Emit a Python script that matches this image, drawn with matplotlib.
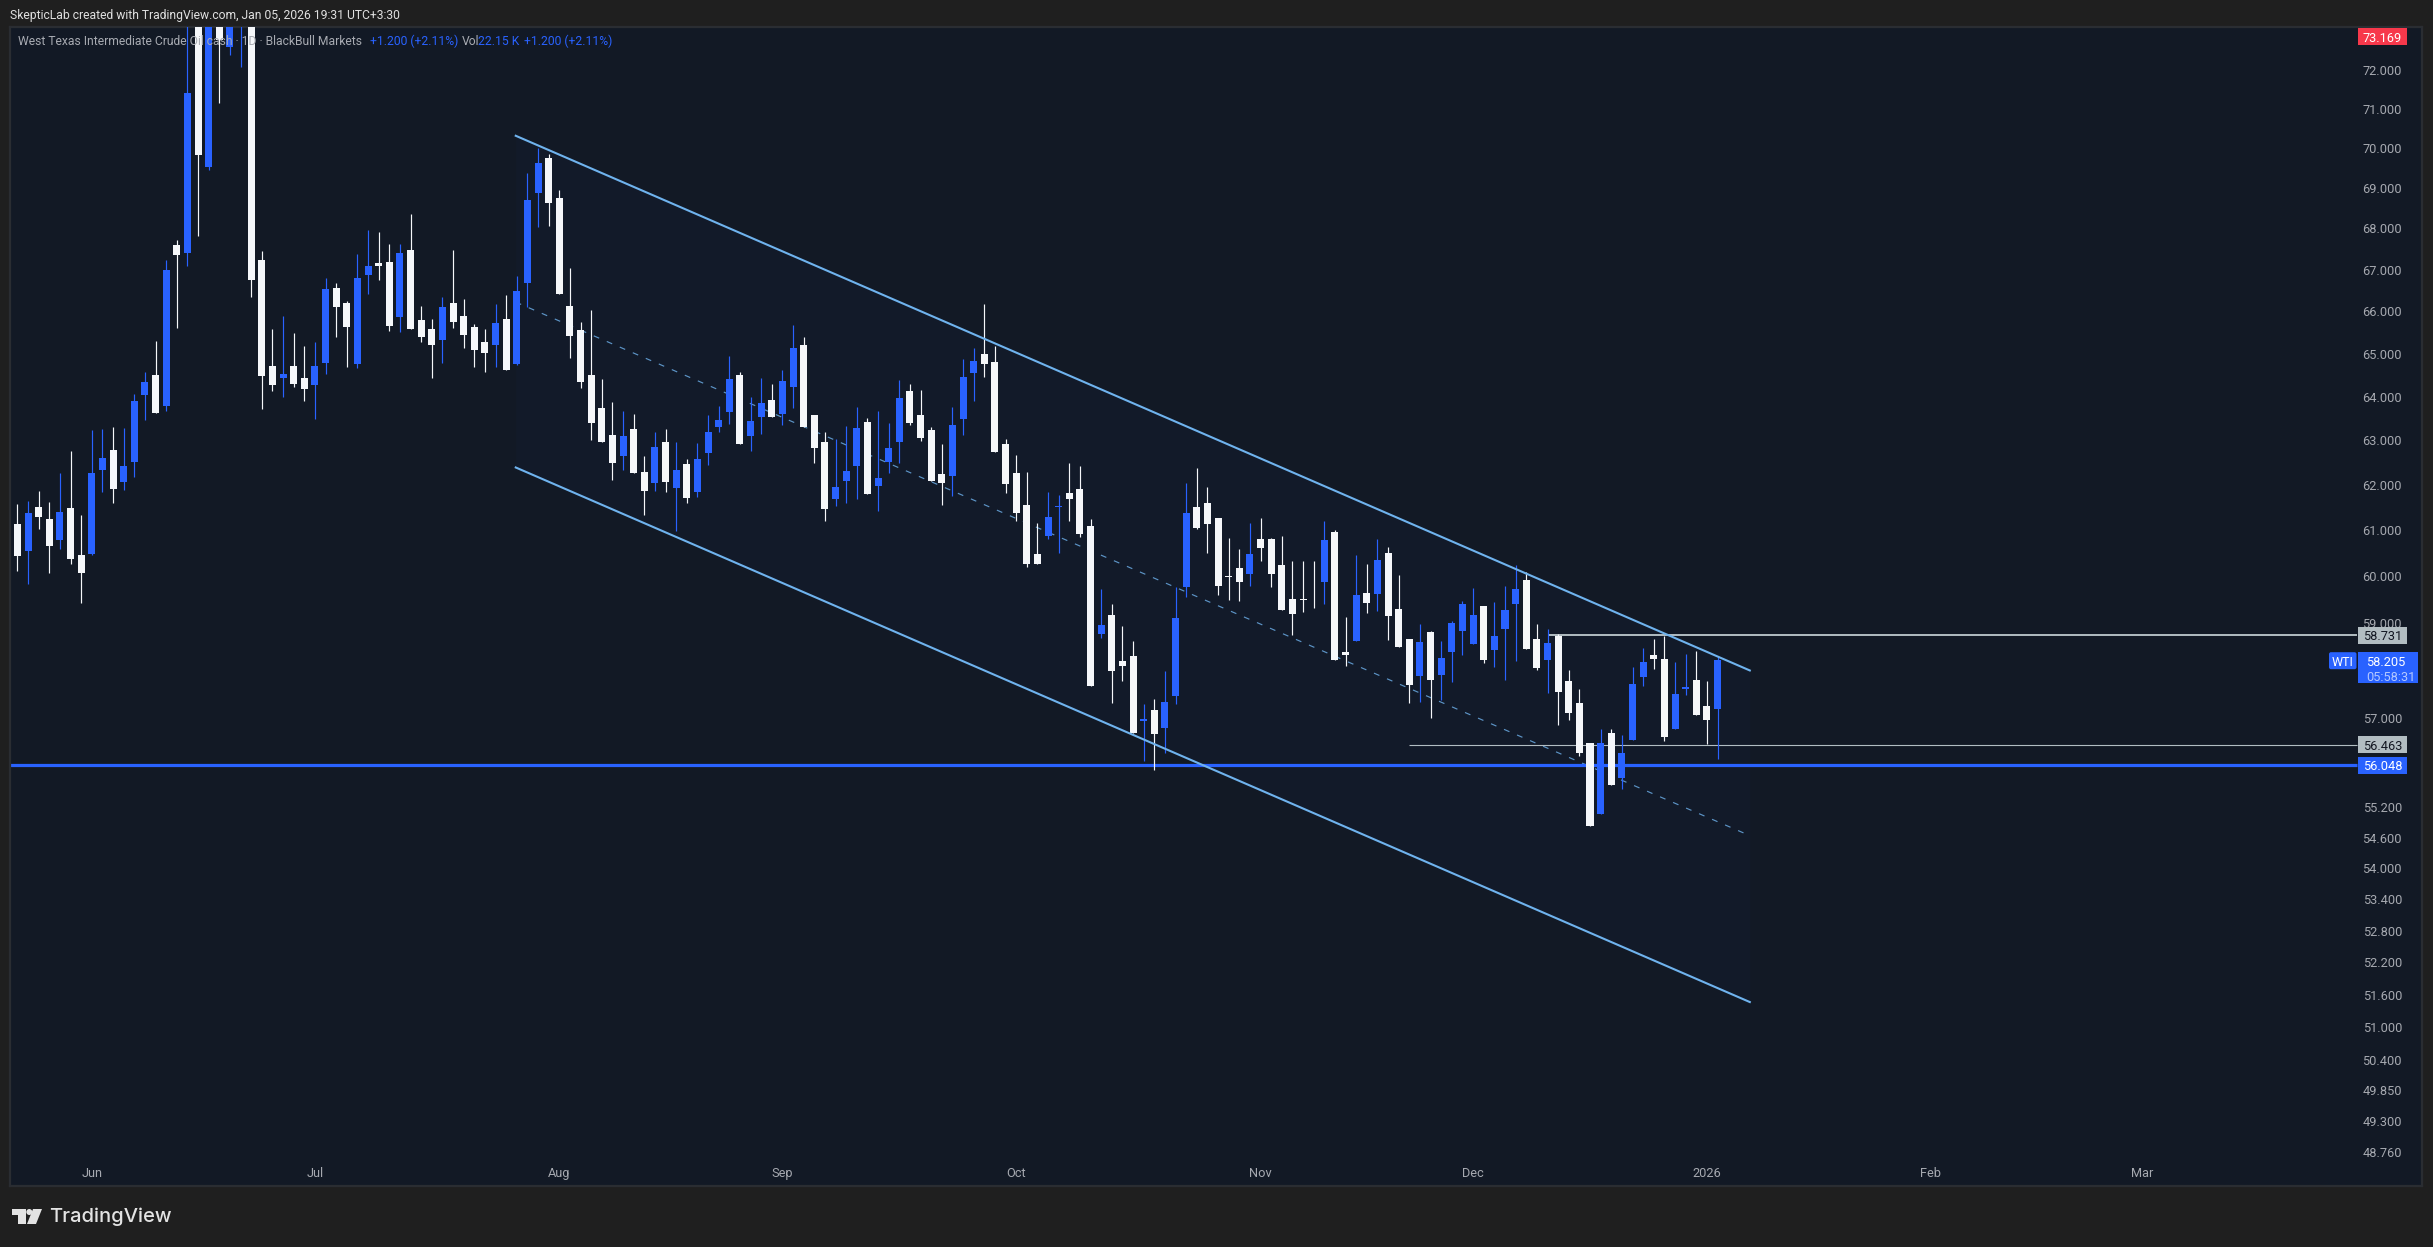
import matplotlib
matplotlib.use("Agg")
import matplotlib.pyplot as plt
from matplotlib.patches import Circle, FancyBboxPatch, Polygon, Rectangle
from matplotlib.ticker import NullLocator

plt.rcParams['font.family'] = ['Roboto', 'DejaVu Sans']

# daily candles (values above about 73.1 are off screen, estimated)
opens = [61.14, 60.55, 61.51, 61.25, 60.79, 61.49, 60.46, 60.48, 62.34, 62.79,
         62.07, 62.52, 64.04, 64.51, 63.79, 67.60, 67.41, 74.60, 69.53, 76.00,
         72.59, 73.80, 74.50, 67.23, 64.72, 64.44, 64.72, 64.44, 64.27, 64.79,
         66.56, 66.20, 64.76, 66.87, 67.16, 67.18, 65.87, 67.48, 65.80, 65.59,
         65.33, 66.20, 65.89, 65.63, 65.28, 65.21, 65.82, 64.76, 66.68, 68.88,
         69.75, 68.76, 66.13, 65.56, 64.51, 63.74, 63.13, 62.65, 63.26, 62.29,
         62.04, 62.97, 61.93, 62.47, 61.85, 62.72, 63.31, 63.65, 64.51, 63.10,
         63.54, 63.93, 63.61, 64.23, 65.21, 63.58, 62.97, 61.69, 62.09, 62.43,
         63.42, 61.98, 62.52, 62.97, 64.13, 63.58, 63.24, 62.25, 62.20, 63.49,
         64.55, 65.00, 64.81, 62.92, 62.27, 61.56, 60.48, 60.87, 61.51, 61.82,
         61.91, 61.09, 58.76, 59.16, 58.19, 58.30, 56.95, 57.17, 56.80, 57.46,
         59.76, 61.51, 61.60, 61.27, 60.00, 60.17, 60.04, 60.81, 60.81, 60.24,
         59.51, 59.51, 59.76, 59.87, 60.96, 58.38, 58.61, 59.64, 59.61, 60.50,
         59.29, 58.65, 57.88, 58.80, 57.90, 58.38, 58.82, 58.55, 59.36, 58.42,
         58.86, 59.40, 59.91, 58.65, 58.21, 58.72, 57.77, 57.32, 56.49, 55.07,
         56.70, 55.79, 56.56, 57.86, 58.32, 58.23, 56.78, 57.61, 57.79, 57.25,
         57.19]
highs = [61.58, 61.65, 61.87, 61.62, 62.27, 62.76, 61.34, 63.24, 63.26, 63.31,
         63.29, 64.06, 64.58, 65.30, 67.24, 67.72, 74.10, 75.50, 75.80, 77.00,
         76.50, 76.00, 75.20, 67.46, 65.59, 65.89, 65.49, 65.18, 65.28, 66.80,
         66.68, 66.25, 67.38, 67.97, 67.92, 67.63, 67.63, 68.36, 66.13, 65.82,
         66.35, 67.48, 66.30, 65.70, 65.59, 66.18, 66.39, 66.85, 69.38, 70.00,
         69.85, 68.95, 67.04, 65.75, 66.04, 64.41, 63.88, 63.67, 63.61, 62.65,
         63.19, 63.26, 62.97, 62.58, 62.94, 63.58, 63.79, 64.95, 64.58, 64.00,
         64.44, 64.30, 64.62, 65.68, 65.40, 63.58, 63.19, 63.03, 63.33, 63.77,
         63.52, 63.67, 63.40, 64.39, 64.30, 64.16, 63.31, 62.92, 63.77, 64.88,
         65.14, 66.18, 65.18, 63.03, 62.67, 62.29, 61.16, 61.85, 61.78, 62.49,
         62.43, 61.25, 59.72, 59.40, 58.93, 58.61, 57.30, 57.40, 57.98, 59.75,
         62.04, 62.38, 61.96, 61.27, 60.83, 60.59, 61.16, 61.27, 60.83, 60.87,
         60.33, 60.33, 60.33, 61.20, 61.00, 59.12, 60.46, 60.26, 60.81, 60.63,
         60.02, 58.65, 58.97, 58.82, 58.61, 59.03, 59.46, 59.74, 59.36, 59.44,
         59.79, 60.24, 60.09, 58.97, 58.86, 58.76, 58.00, 57.61, 56.49, 56.78,
         56.78, 56.66, 58.06, 58.46, 58.65, 58.72, 58.17, 58.34, 58.40, 57.77,
         58.30]
lows = [60.11, 59.83, 61.03, 60.07, 60.59, 60.26, 59.42, 60.46, 61.85, 61.60,
        61.89, 62.18, 63.47, 63.63, 63.67, 65.61, 67.09, 67.82, 69.45, 71.14,
        72.39, 72.08, 66.35, 63.72, 64.13, 64.00, 64.23, 63.90, 63.49, 64.53,
        65.40, 64.69, 64.67, 66.41, 66.75, 65.54, 65.52, 65.59, 65.28, 64.44,
        64.79, 65.61, 65.14, 64.69, 64.58, 64.69, 64.62, 64.74, 66.11, 68.04,
        68.06, 66.41, 64.90, 64.20, 63.01, 62.97, 62.11, 62.34, 62.27, 61.34,
        61.87, 61.85, 60.98, 61.60, 61.73, 62.45, 63.19, 63.38, 62.92, 62.76,
        63.15, 63.54, 63.35, 63.74, 63.31, 62.49, 61.20, 61.54, 61.60, 61.69,
        61.80, 61.43, 62.27, 62.49, 63.35, 62.99, 62.09, 61.56, 61.76, 63.13,
        63.90, 64.46, 62.74, 61.82, 61.20, 60.20, 60.26, 60.81, 60.50, 61.20,
        60.85, 57.67, 58.68, 57.32, 57.77, 56.70, 56.13, 55.95, 56.29, 57.30,
        59.55, 61.03, 60.50, 59.59, 59.49, 59.46, 59.79, 60.33, 59.76, 59.27,
        58.74, 59.23, 59.31, 59.40, 58.21, 58.08, 58.61, 59.20, 59.25, 58.63,
        58.49, 57.32, 57.34, 57.01, 57.38, 57.75, 58.32, 58.55, 58.15, 58.06,
        57.79, 58.19, 58.44, 58.00, 57.52, 56.86, 56.97, 56.23, 54.83, 55.07,
        55.65, 55.57, 56.56, 57.67, 58.02, 56.54, 56.78, 57.48, 57.07, 56.47,
        56.17]
closes = [60.44, 61.38, 61.29, 60.66, 61.40, 60.37, 60.07, 62.27, 62.61, 61.91,
          62.43, 63.90, 64.34, 63.63, 66.99, 67.36, 71.41, 69.83, 75.00, 72.77,
          75.50, 75.00, 66.75, 64.48, 64.27, 64.53, 64.30, 64.18, 64.72, 66.53,
          66.11, 65.63, 66.80, 67.09, 67.09, 65.66, 67.41, 65.59, 65.40, 65.21,
          66.11, 65.75, 65.44, 65.09, 65.02, 65.73, 64.62, 66.49, 68.71, 69.63,
          68.63, 66.41, 65.42, 64.34, 63.40, 62.97, 62.49, 63.10, 62.27, 61.87,
          62.85, 62.07, 62.34, 61.71, 62.58, 63.19, 63.47, 64.41, 62.92, 63.45,
          63.86, 63.54, 64.36, 65.14, 63.31, 62.83, 61.47, 61.96, 62.31, 63.29,
          61.80, 62.16, 62.83, 63.97, 63.40, 63.06, 62.09, 62.04, 63.35, 64.46,
          64.83, 64.76, 62.74, 62.02, 61.38, 60.26, 60.26, 61.29, 61.54, 61.69,
          60.92, 57.67, 58.95, 57.98, 58.08, 56.70, 56.99, 56.68, 57.34, 59.10,
          61.38, 61.05, 61.14, 59.79, 59.98, 59.87, 60.48, 60.61, 60.04, 59.27,
          59.18, 59.49, 59.75, 60.79, 58.21, 58.32, 59.59, 59.42, 60.35, 59.14,
          58.49, 57.69, 58.59, 57.79, 58.25, 58.99, 59.40, 59.16, 58.21, 58.72,
          59.27, 59.72, 58.44, 58.04, 58.57, 57.54, 57.11, 56.29, 54.83, 56.49,
          55.65, 56.29, 57.71, 58.17, 58.23, 56.62, 57.50, 57.65, 57.07, 56.97,
          58.205]

# price axis labels
price_ticks = [72, 71, 70, 69, 68, 67, 66, 65, 64, 63, 62, 61, 60, 59, 57,
               55.2, 54.6, 54, 53.4, 52.8, 52.2, 51.6, 51, 50.4, 49.85, 49.3, 48.76]
# time axis labels, position counted in bars
month_pos = [7, 28, 51, 72, 94, 117, 137, 159, 180, 200]
month_labels = ['Jun', 'Jul', 'Aug', 'Sep', 'Oct', 'Nov', 'Dec', '2026', 'Feb', 'Mar']

# drawings
channel_x = [46.9, 163.04]
channel_top = [70.31, 57.99]
channel_mid = [66.22, 54.64]
channel_bot = [62.39, 51.46]
resist_level = 58.731
resist_start = 144
mid_level = 56.463
mid_start = 131
support_level = 56.048
last_price = 58.205
high_price = 73.169

UP = '#2962ff'
DOWN = '#f5f7fa'
BG = '#121925'
OUTER = '#1f1f1f'
FRAME = '#2a2d32'
TICK = '#a6a9b0'
LINE = '#6fb3ee'
GREY = '#b2bdc2'

W, H = 2433, 1247
fig = plt.figure(figsize=(W / 100, H / 100), dpi=100, facecolor=OUTER)
L, R, T, B = 10, 2422, 27, 1186
ax = fig.add_axes([L / W, 1 - B / H, (R - L) / W, (B - T) / H])
ax.set_facecolor(BG)
ax.set_yscale('log')
ax.set_xlim(-0.696, 226.3)
ax.set_ylim(48.16, 73.12)
for s in ax.spines.values():
    s.set_color(FRAME)
    s.set_linewidth(1.6)

ax.yaxis.tick_right()
ax.set_yticks(price_ticks, ['%.3f' % p for p in price_ticks], fontsize=9.2, color=TICK, ha='right')
ax.yaxis.set_minor_locator(NullLocator())
ax.tick_params(axis='y', length=0, pad=-14.4)
ax.set_xticks(month_pos, month_labels, fontsize=9.2, color=TICK)
ax.tick_params(axis='x', length=0, pad=-14)

# channel
ax.fill_between(channel_x, channel_top, channel_bot, color='#2962ff', alpha=0.02, lw=0, zorder=1)
ax.plot(channel_x, channel_mid, color=LINE, lw=0.85, alpha=0.8, dashes=(5, 7), zorder=1.5)

# levels
ax.plot([-0.7, 220.2], [support_level, support_level], color='#2962ff', lw=2.3, solid_capstyle='butt', zorder=2)
ax.plot([mid_start, 220.2], [mid_level, mid_level], color=GREY, lw=0.8, solid_capstyle='butt', zorder=2)
ax.plot([resist_start, 220.2], [resist_level, resist_level], color=GREY, lw=1.4, solid_capstyle='butt', zorder=2)

# candles
for i in range(len(opens)):
    c = UP if closes[i] >= opens[i] else DOWN
    ax.vlines(i, lows[i], highs[i], color=c, lw=0.85, zorder=3)
    ax.bar(i, abs(closes[i] - opens[i]), bottom=min(opens[i], closes[i]), width=0.66, color=c, lw=0, zorder=3)

ax.plot(channel_x, channel_top, color=LINE, lw=1.5, zorder=4)
ax.plot(channel_x, channel_bot, color=LINE, lw=1.5, zorder=4)

# overlay in pixels for header, price tags and logo
ov = fig.add_axes([0, 0, 1, 1], zorder=5)
ov.axis('off')
ov.set_xlim(0, W)
ov.set_ylim(H, 0)


def price_y(p):
    return H - ax.transData.transform((0, p))[1]


def tag(y, text, bg, fg):
    ov.add_patch(Rectangle((2358, y - 8.5), 49, 17, color=bg, lw=0))
    ov.text(2382.5, y, text, color=fg, fontsize=9.2, ha='center', va='center_baseline')


tag(36.5, '%.3f' % high_price, '#f7384b', 'white')
tag(price_y(resist_level), '%.3f' % resist_level, GREY, '#131722')
tag(price_y(mid_level), '%.3f' % mid_level, GREY, '#131722')
tag(price_y(support_level), '%.3f' % support_level, '#2962ff', 'white')

y_last = price_y(last_price)
ov.add_patch(Rectangle((2358, y_last - 8), 60, 31, color='#2962ff', lw=0))
ov.text(2366, y_last + 0.5, '%.3f' % last_price, color='white', fontsize=9.2, va='center_baseline')
ov.text(2366, y_last + 15.5, '05:58:31', color='#b4c8ff', fontsize=9.2, va='center_baseline')
ov.add_patch(FancyBboxPatch((2329, y_last - 8), 27.5, 17, boxstyle='round,pad=0,rounding_size=2', color='#2962ff', lw=0))
ov.text(2343, y_last + 0.5, 'WTI', color='white', fontsize=9, ha='center', va='center_baseline')

ov.text(10, 15, 'SkepticLab created with TradingView.com, Jan 05, 2026 19:31 UTC+3:30', color='#e0e0e0', fontsize=8.75, va='center')
ov.text(18, 41.5, 'West Texas Intermediate Crude Oil cash · 1D · BlackBull Markets', color='#a8abb2', fontsize=8.75, va='center')
ov.text(370, 41.5, '+1.200 (+2.11%)', color='#2962ff', fontsize=8.75, va='center')
ov.text(462, 41.5, 'Vol', color='#a8abb2', fontsize=8.75, va='center')
ov.text(478.5, 41.5, '22.15 K', color='#2962ff', fontsize=8.75, va='center')
ov.text(524.5, 41.5, '+1.200 (+2.11%)', color='#2962ff', fontsize=8.75, va='center')

# TradingView logo
logo = '#e3e3e3'
ov.add_patch(Polygon([(11.5, 1209), (25.6, 1209), (25.6, 1224), (18.4, 1224), (18.4, 1215), (11.5, 1215)], color=logo, lw=0))
ov.add_patch(Circle((29.3, 1212), 3, color=logo, lw=0))
ov.add_patch(Polygon([(33, 1209), (42, 1209), (36, 1224), (27, 1224)], color=logo, lw=0))
ov.text(49, 1217, 'TradingView', color=logo, fontsize=14.5, family=['Inter', 'DejaVu Sans'], weight='medium', va='center')

fig.savefig('out.png', dpi=100, facecolor=OUTER)
